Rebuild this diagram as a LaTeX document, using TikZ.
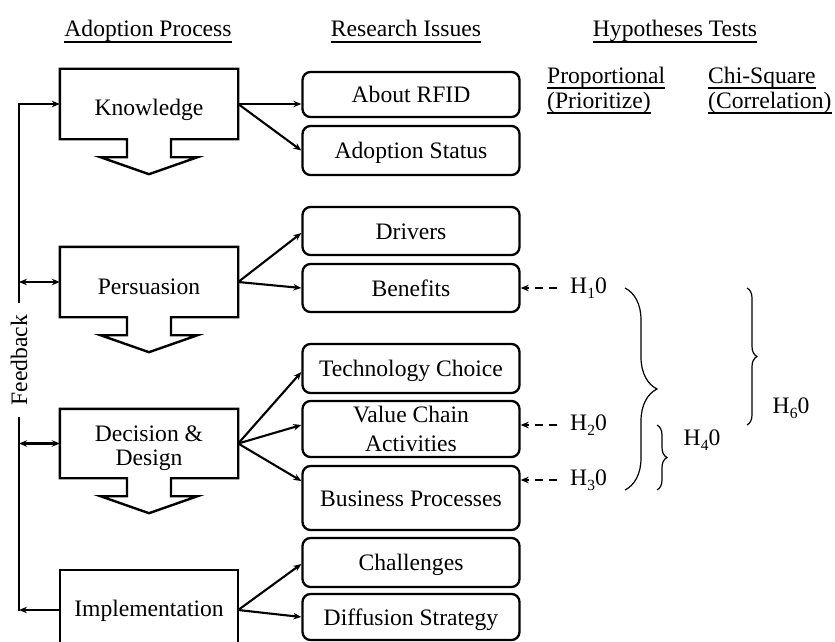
\documentclass[tikz,border=0pt]{standalone}
\usepackage{fontspec}
\setmainfont{Liberation Serif}
\usetikzlibrary{arrows.meta,calc,decorations.pathreplacing}
\newcommand\hsub[1]{\raisebox{-5pt}{\fontsize{15.5}{16}\selectfont #1}}
\newcommand\adoptstep[1]{%
  \draw[procline] (#1.north west) -- (#1.north east) -- (#1.south east)
    -- ($(#1.south)+(22,0)$) -- ++(0,18) -- ++(26.5,0) -- ($(#1.south)+(0,35)$)
    -- ($(#1.south)+(-48.5,18)$) -- ++(26.5,0) -- ++(0,-18) -- (#1.south west) -- cycle;}
\begin{document}
\begin{tikzpicture}[x=1pt,y=-1pt,
  every node/.style={font=\fontsize{23.6}{26}\selectfont},
  proc/.style={minimum width=178pt, minimum height=70pt, inner sep=0pt},
  ptext/.style={inner sep=0pt, align=center, text height=16pt, text depth=0pt},
  issue/.style={draw, line width=2.3pt, rounded corners=8pt, minimum width=217pt, inner sep=0pt, align=center},
  one/.style={text height=16pt, text depth=0pt},
  procline/.style={line width=2.4pt, line join=miter},
  conn/.style={line width=2.1pt},
  tip/.style={-{Stealth[length=8pt,width=6.5pt]}},
  arr/.style={conn, tip},
  darr/.style={conn, {Stealth[length=8pt,width=6.5pt]}-{Stealth[length=8pt,width=6.5pt]}},
  dasharr/.style={conn, dash pattern=on 8pt off 6pt, tip},
  brc/.style={line width=1.2pt, decorate, decoration={brace, amplitude=#1}},
  hdr/.style={anchor=base, inner sep=0pt},
  hyp/.style={anchor=west, inner xsep=13pt, inner ysep=0pt},
  uline/.style={line width=1.9pt},
]
\useasboundingbox (0,0) rectangle (835,642);

% headers
\node[hdr] (hap) at (148,37) {Adoption Process};
\node[hdr] (hri) at (406,37) {Research Issues};
\node[hdr] (hht) at (675,37) {Hypotheses Tests};
\foreach \n in {hap,hri,hht}
  \draw[uline] ($(\n.base west)+(0,5)$) -- ($(\n.base east)+(0,5)$);
\node[hdr, anchor=base west] (pr1) at (547,83) {Proportional};
\node[hdr, anchor=base west] (pr2) at (547,108) {(Prioritize)};
\node[hdr, anchor=base west] (cs1) at (708,83) {Chi-Square};
\node[hdr, anchor=base west] (cs2) at (708,108) {(Correlation)};
\foreach \n in {pr1,pr2,cs1,cs2}
  \draw[uline] ($(\n.base west)+(0,5)$) -- ($(\n.base east)+(0,5)$);

% adoption process
\node[proc] (know) at (149,104) {};
\node[proc] (pers) at (149,282) {};
\node[proc, minimum height=69pt] (dec) at (149,443.5) {};
\node[proc, minimum height=80pt] (impl) at (149,610) {};
\node[ptext, anchor=base] (knowT) at (149,115) {Knowledge};
\node[ptext, anchor=base] (persT) at (149,294) {Persuasion};
\node[ptext, anchor=base] (decT1) at (149,441) {Decision \&};
\node[ptext, anchor=base] (decT2) at (149,465) {Design};
\node[ptext, anchor=base] (implT) at (149,616) {Implementation};
\adoptstep{know}
\adoptstep{pers}
\adoptstep{dec}
\draw[procline] (impl.south west) -- (impl.north west) -- (impl.north east) -- (impl.south east);

% research issues
\node[issue, one, minimum height=45pt] (rfid) at (411,94.5) {About RFID};
\node[issue, one, minimum height=49pt] (astat) at (411,150.5) {Adoption Status};
\node[issue, one, minimum height=48pt] (drv) at (411,231) {Drivers};
\node[issue, one, minimum height=48pt] (ben) at (411,288) {Benefits};
\node[issue, one, minimum height=49pt] (tech) at (411,368.5) {Technology Choice};
\node[issue, minimum height=56pt, font=\fontsize{23.6}{29}\selectfont] (vca) at (411,429) {Value Chain\\Activities};
\node[issue, one, minimum height=64pt] (bp) at (411,498) {Business Processes};
\node[issue, one, minimum height=49pt] (chal) at (411,562.5) {Challenges};
\node[issue, one, minimum height=46pt] (diff) at (411,617) {Diffusion Strategy};

\draw[arr] (know.east) -- (know.east -| rfid.west);
\draw[arr] (know.east) -- (astat.west);
\draw[arr] (pers.east) -- ($(drv.west)+(0,2)$);
\draw[arr] (pers.east) -- (ben.west);
\draw[arr] (dec.east) -- ($(tech.west)+(0,3.5)$);
\draw[arr] (dec.east) -- ($(vca.west)+(0,-4)$);
\draw[arr] (dec.east) -- ($(bp.west)+(0,-17)$);
\draw[arr] (impl.east) -- ($(chal.west)+(0,1.5)$);
\draw[arr] (impl.east) -- (diff.west);

% feedback
\coordinate (fk) at (19,104);
\coordinate (fp) at (19,282);
\coordinate (fd) at (19,443.5);
\coordinate (fi) at (19,610);
\node[rotate=90, inner xsep=12pt, inner ysep=0pt] (fbl) at (19,360) {Feedback};
\draw[arr, line join=miter] (fbl.east) -- (fk) -- (know.west);
\draw[conn] (fbl.west) -- ($(fi)+(0,1)$);
\draw[arr] (impl.west) -- (fi);
\draw[darr] (fp) -- (pers.west);
\draw[darr] (fd) -- (dec.west);

% hypotheses
\node[hyp] (h1) at (557,288) {H\hsub{1}0};
\node[hyp] (h2) at (557,425) {H\hsub{2}0};
\node[hyp] (h3) at (557,480) {H\hsub{3}0};
\draw[dasharr] (h1.west) -- (h1.west -| ben.east);
\draw[dasharr] (h2.west) -- (h2.west -| vca.east);
\draw[dasharr] (h3.west) -- (h3.west -| bp.east);

\coordinate (b1t) at (625,288);
\coordinate (b1b) at (625,490);
\coordinate (b2t) at (657,425);
\coordinate (b2b) at (657,490);
\coordinate (b3t) at (747,288);
\coordinate (b3b) at (747,425);
\draw[brc=32] (b1t) -- (b1b);
\draw[brc=10] (b2t) -- (b2b);
\draw[brc=10] (b3t) -- (b3b);
\node (h4) at (702,440) {H\hsub{4}0};
\node (h6) at (791,408) {H\hsub{6}0};
\end{tikzpicture}
\end{document}
